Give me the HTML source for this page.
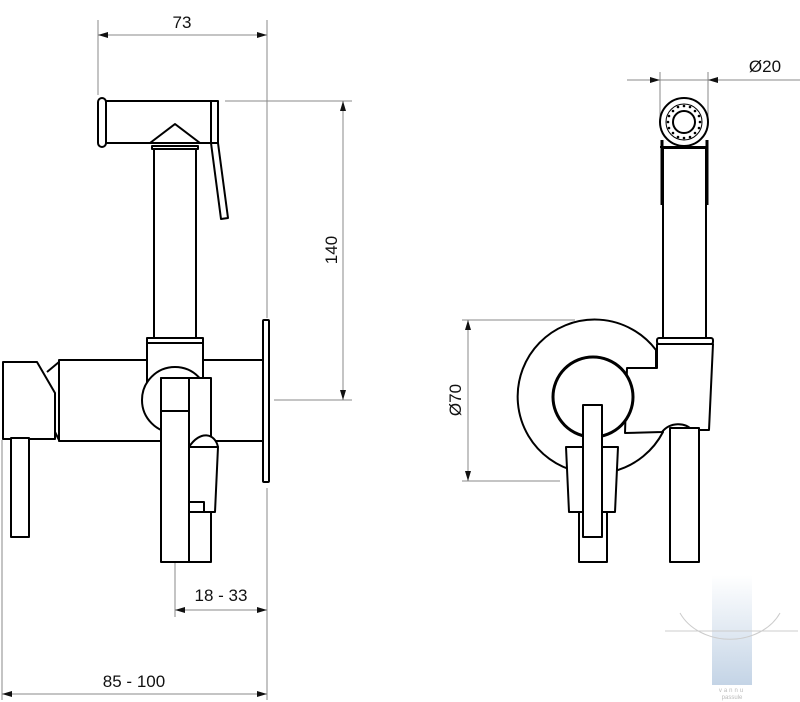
<!DOCTYPE html>
<html><head><style>
html,body{margin:0;padding:0;background:#fff;}
svg{display:block;}
text{font-family:"Liberation Sans",sans-serif;fill:#111;}
</style></head><body>
<svg width="800" height="702" viewBox="0 0 800 702" xmlns="http://www.w3.org/2000/svg">
<defs>
<linearGradient id="wm" x1="0" y1="0" x2="0" y2="1"><stop offset="0" stop-color="#fff"/><stop offset="1" stop-color="#c4d4e6"/></linearGradient>
<marker id="ar" viewBox="0 0 10 6" refX="10" refY="3" markerWidth="16" markerHeight="6" markerUnits="userSpaceOnUse" orient="auto"><path d="M0,0 L10,3 L0,6z" fill="#111"/></marker>
</defs>
<!-- watermark -->
<rect x="712" y="575" width="40" height="110" fill="url(#wm)"/>
<g stroke="#ccc" fill="none" stroke-width="1"><path d="M680,613 A55,45 0 0 0 780,613"/><line x1="665" y1="631" x2="798" y2="631"/></g>
<text x="732" y="692" font-size="6" text-anchor="middle" style="fill:#bbb;letter-spacing:2px">vannu</text>
<text x="732" y="699" font-size="6" text-anchor="middle" style="fill:#bbb">passule</text>

<!-- dimension lines (gray) -->
<g stroke="#888" stroke-width="1" fill="none">
<line x1="98" y1="20" x2="98" y2="95"/><line x1="267" y1="20" x2="267" y2="318"/>
<line x1="225" y1="101" x2="352" y2="101"/><line x1="274" y1="400" x2="352" y2="400"/>
<line x1="175" y1="415" x2="175" y2="617"/><line x1="267" y1="488" x2="267" y2="700"/>
<line x1="2" y1="440" x2="2" y2="700"/>
<line x1="660" y1="72" x2="660" y2="118"/><line x1="708" y1="72" x2="708" y2="118"/>
<line x1="627" y1="80" x2="800" y2="80"/>
<line x1="462" y1="320" x2="575" y2="320"/><line x1="462" y1="481" x2="560" y2="481"/>
</g>
<g stroke="#888" stroke-width="1">
<line x1="120" y1="35" x2="98" y2="35" marker-end="url(#ar)"/><line x1="120" y1="35" x2="267" y2="35" marker-end="url(#ar)"/>
<line x1="343" y1="250" x2="343" y2="101" marker-end="url(#ar)"/><line x1="343" y1="250" x2="343" y2="400" marker-end="url(#ar)"/>
<line x1="220" y1="610" x2="175" y2="610" marker-end="url(#ar)"/><line x1="220" y1="610" x2="267" y2="610" marker-end="url(#ar)"/>
<line x1="130" y1="694" x2="2" y2="694" marker-end="url(#ar)"/><line x1="130" y1="694" x2="267" y2="694" marker-end="url(#ar)"/>
<line x1="643" y1="80" x2="660" y2="80" marker-end="url(#ar)"/><line x1="725" y1="80" x2="708" y2="80" marker-end="url(#ar)"/>
<line x1="468" y1="400" x2="468" y2="320" marker-end="url(#ar)"/><line x1="468" y1="400" x2="468" y2="481" marker-end="url(#ar)"/>
</g>
<text x="182" y="28" font-size="17" text-anchor="middle">73</text>
<text x="221" y="601" font-size="17" text-anchor="middle">18 - 33</text>
<text x="134" y="687" font-size="17" text-anchor="middle">85 - 100</text>
<text x="765" y="72" font-size="17" text-anchor="middle">Ø20</text>
<text transform="translate(337,250) rotate(-90)" font-size="17" text-anchor="middle">140</text>
<text transform="translate(461,400) rotate(-90)" font-size="17" text-anchor="middle">Ø70</text>

<!-- LEFT VIEW -->
<g stroke="#000" stroke-width="2" fill="#fff" stroke-linejoin="round">
<rect x="59" y="360" width="204" height="81"/>
<rect x="263" y="320" width="6" height="162" rx="1"/>
<path d="M3,362 L37,362 L55,393 L55,439 L3,439 Z"/>
<path d="M47,372 L59,362 M55,432 L59,440" fill="none"/>
<rect x="11" y="438" width="18" height="99"/>
<rect x="154" y="149" width="42" height="190"/>
<rect x="147" y="342" width="56" height="44"/>
<rect x="147" y="338" width="56" height="5"/>
<circle cx="175" cy="400" r="33"/>
<rect x="161" y="378" width="50" height="184"/>
<line x1="189" y1="378" x2="189" y2="562"/>
<rect x="161" y="378" width="28" height="33"/>
<path d="M189,447 C200,430 215,433 218,447 Z"/>
<path d="M189,447 L218,447 L215,512 L189,512 Z"/>
<rect x="189" y="502" width="15" height="10"/>
<rect x="103" y="101" width="110" height="42"/>
<rect x="98" y="98" width="8" height="49" rx="4"/>
<rect x="211" y="101" width="7" height="42"/>
<path d="M211,143 L218,143 L228,218 L221,219 Z"/>
<path d="M150,143 L175,124 L200,143 Z"/>
<rect x="152" y="146" width="46" height="3"/>
</g>

<!-- RIGHT VIEW -->
<g stroke="#000" stroke-width="2" fill="#fff" stroke-linejoin="round">
<path d="M656,368 L656,350 A77,77 0 1 0 663,432 Z"/>
<path d="M657,344 L713,344 L709,430 L692,430 C685,422 670,422 662,432 L625,433 L627,368 L657,368 Z"/>
<rect x="670" y="428" width="29" height="134"/>
<circle cx="593" cy="397" r="40" stroke-width="3"/>
<rect x="579" y="500" width="28" height="62"/>
<path d="M566,447 L618,447 L615,512 L569,512 Z"/>
<rect x="583" y="405" width="19" height="132"/>
<rect x="663" y="148" width="43" height="190"/>
<rect x="657" y="338" width="56" height="6" rx="2"/>
<circle cx="684" cy="122" r="24"/>
<circle cx="684" cy="122" r="18" stroke-width="1"/>
<circle cx="684" cy="122" r="11"/>
<line x1="660" y1="147" x2="708" y2="147"/>
<path d="M662,140 L662,205 M707,140 L707,205" stroke-width="3" fill="none"/>
</g>
<g fill="#000">
<circle cx="684" cy="106" r="1.3"/><circle cx="684" cy="138" r="1.3"/><circle cx="668" cy="122" r="1.3"/><circle cx="700" cy="122" r="1.3"/>
<circle cx="695" cy="111" r="1.3"/><circle cx="673" cy="111" r="1.3"/><circle cx="695" cy="133" r="1.3"/><circle cx="673" cy="133" r="1.3"/>
<circle cx="690" cy="107" r="1.3"/><circle cx="678" cy="107" r="1.3"/><circle cx="690" cy="137" r="1.3"/><circle cx="678" cy="137" r="1.3"/>
<circle cx="669" cy="116" r="1.3"/><circle cx="669" cy="128" r="1.3"/><circle cx="699" cy="116" r="1.3"/><circle cx="699" cy="128" r="1.3"/>
</g>
</svg>
</body></html>
